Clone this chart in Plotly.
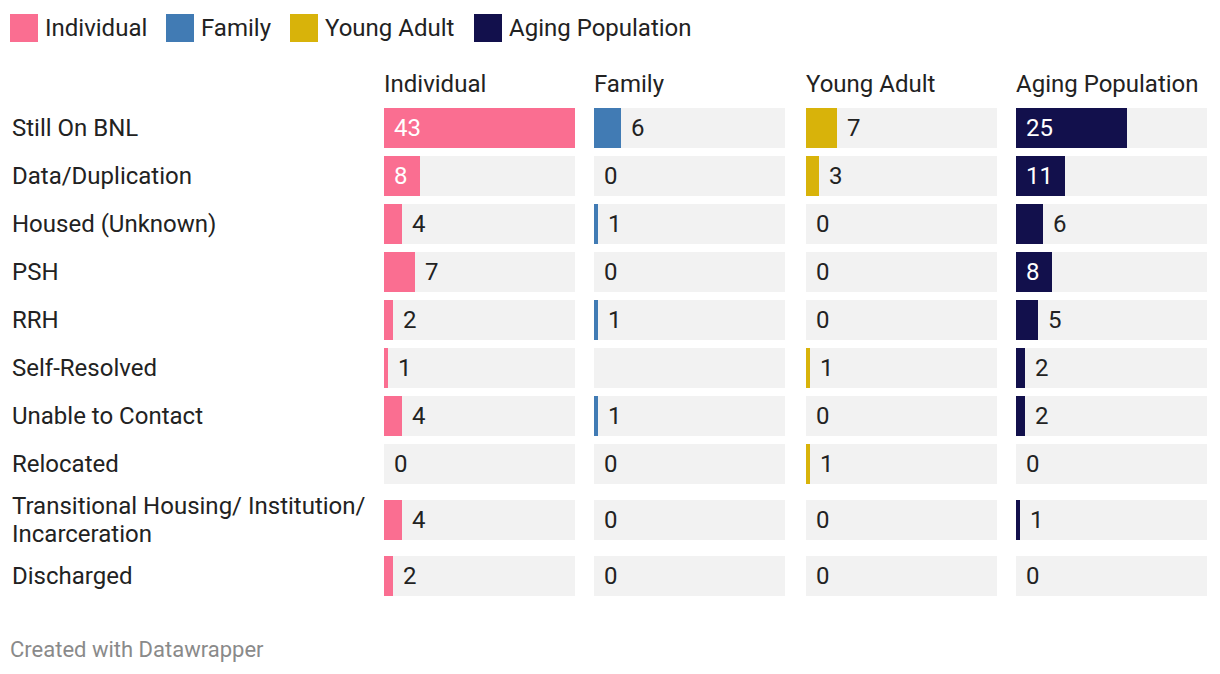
import plotly.graph_objects as go

# ---- data ----
categories = ["Still On BNL", "Data/Duplication", "Housed (Unknown)", "PSH", "RRH",
              "Self-Resolved", "Unable to Contact", "Relocated",
              "Transitional Housing/ Institution/<br>Incarceration", "Discharged"]
series_names = ["Individual", "Family", "Young Adult", "Aging Population"]
individual = [43, 8, 4, 7, 2, 1, 4, 0, 4, 2]
family = [6, 0, 1, 0, 1, None, 1, 0, 0, 0]
young_adult = [7, 3, 0, 0, 0, 1, 0, 1, 0, 0]
aging_population = [25, 11, 6, 8, 5, 2, 2, 0, 1, 0]
colors = ["#fa6e91", "#417bb4", "#d8b30a", "#12104c"]

series_values = [individual, family, young_adult, aging_population]

OFF = 8                     # page body margin
SW, SH = 1220, 674          # screen size
W, H = SW - OFF, SH - OFF   # figure size
FONT = "Roboto"
TXT = "#222222"
FS = 24


def px(x):
    """screen x pixel -> paper fraction"""
    return (x - OFF) / W


# panel layout (screen pixels)
panel_x0 = [384, 594, 806, 1016]
panel_w = 191
top = 104
line_h = 28
bar_h = 40

# row centres from number of label lines
centers = []
y = top
for c in categories:
    n = c.count("<br>") + 1
    h = 48 + (n - 1) * 16
    centers.append(y + h / 2)
    y += h

vmax = max(v for s in series_values for v in s if v is not None)

fig = go.Figure()
annotations = []
shapes = []

for i, (name, vals, col) in enumerate(zip(series_names, series_values, colors)):
    xa = "x" if i == 0 else f"x{i+1}"
    fig.add_trace(go.Bar(x=[vmax] * len(categories), y=centers, orientation="h",
                         width=bar_h, marker=dict(color="#f2f2f2", line=dict(width=0)),
                         xaxis=xa, yaxis="y", hoverinfo="skip", showlegend=False))
    fig.add_trace(go.Bar(x=[v if v is not None else 0 for v in vals], y=centers,
                         orientation="h", width=bar_h,
                         marker=dict(color=col, line=dict(width=0)),
                         xaxis=xa, yaxis="y", name=name, showlegend=False))
    ax = dict(domain=[px(panel_x0[i]), px(panel_x0[i] + panel_w)], range=[0, vmax],
              visible=False, fixedrange=True, anchor="y")
    key = "xaxis" if i == 0 else f"xaxis{i+1}"
    fig.update_layout(**{key: ax})
    annotations.append(dict(text=name, x=px(panel_x0[i]), y=84, xref="paper", yref="y",
                            xanchor="left", yanchor="middle", showarrow=False,
                            font=dict(family=FONT, size=FS, color=TXT), xshift=-2))
    for v, yc in zip(vals, centers):
        if v is None:
            continue
        inside = v >= 8
        annotations.append(dict(text=str(v), x=0 if inside else v, y=yc,
                                xref=xa, yref="y", xanchor="left", yanchor="middle",
                                showarrow=False, xshift=8,
                                font=dict(family=FONT, size=FS,
                                          color="#ffffff" if inside else TXT)))

# row labels (each line placed separately for tight line spacing)
for c, yc in zip(categories, centers):
    lines = c.split("<br>")
    n = len(lines)
    for k, ln in enumerate(lines):
        annotations.append(dict(text=ln, x=px(12), y=yc + (k - (n - 1) / 2) * line_h,
                                xref="paper", yref="y", xanchor="left", yanchor="middle",
                                showarrow=False, font=dict(family=FONT, size=FS, color=TXT),
                                xshift=-2))

# legend (manual)
legend_x = [10, 166, 290, 474]
for name, col, lx in zip(series_names, colors, legend_x):
    shapes.append(dict(type="rect", xref="paper", yref="y", x0=px(lx), x1=px(lx + 28),
                       y0=14, y1=42, fillcolor=col, line=dict(width=0)))
    annotations.append(dict(text=name, x=px(lx + 33), y=28, xref="paper", yref="y",
                            xanchor="left", yanchor="middle", showarrow=False,
                            font=dict(family=FONT, size=FS, color=TXT)))

annotations.append(dict(text="Created with Datawrapper", x=px(10), y=649, xref="paper", yref="y",
                        xanchor="left", yanchor="middle", showarrow=False,
                        font=dict(family=FONT, size=22, color="#8a8a8a"), xshift=-2))

fig.update_layout(
    width=W, height=H, margin=dict(l=0, r=0, t=0, b=0),
    paper_bgcolor="white", plot_bgcolor="white",
    barmode="overlay", bargap=0,
    yaxis=dict(domain=[0, 1], range=[SH, OFF], visible=False, fixedrange=True),
    annotations=annotations, shapes=shapes,
    font=dict(family=FONT, color=TXT),
)

fig.write_html("out.html", config={"displayModeBar": False})
